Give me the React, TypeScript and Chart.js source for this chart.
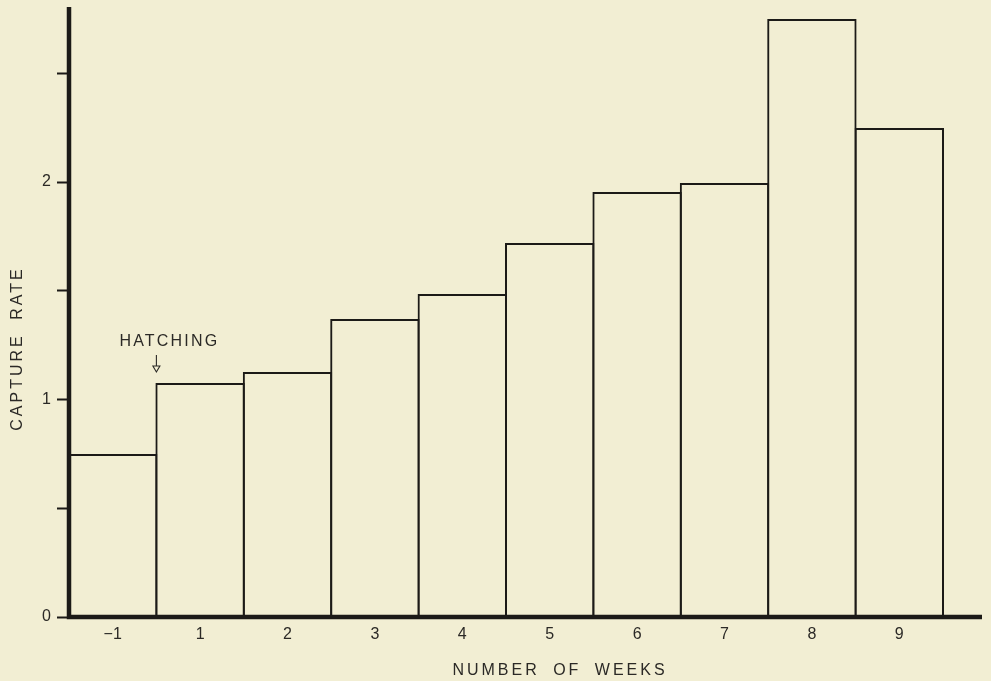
import React, { useEffect, useRef } from 'react';
import { Chart, registerables } from 'chart.js';

Chart.register(...registerables);

// ---- data ----
const categories = ['\u22121', '1', '2', '3', '4', '5', '6', '7', '8', '9'];
const captureRate = [0.75, 1.076, 1.126, 1.37, 1.485, 1.72, 1.954, 1.995, 2.75, 2.248];
const yMajorTicks = [0, 1, 2];
const yStep = 0.5;
const yMax = 2.8;
const annotationLabel = 'HATCHING';
const annotationIndex = 1; // arrow at the start of week 1
const xTitle = 'NUMBER OF WEEKS';
const yTitle = 'CAPTURE RATE';

const BG = '#f2eed3';
const INK = '#1c1a17';
const TEXT = '#2b2926';
const FONT = '"Liberation Sans", Arial, sans-serif';

const decorPlugin = {
  id: 'decor',
  afterDatasetsDraw(chart: any) {
    const { ctx, chartArea, scales } = chart;
    const x = scales.x;
    const y = scales.y;
    ctx.save();
    // axes
    ctx.strokeStyle = INK;
    ctx.lineWidth = 4.5;
    ctx.beginPath();
    ctx.moveTo(chartArea.left, chartArea.top - 1);
    ctx.lineTo(chartArea.left, chartArea.bottom + 2.2);
    ctx.moveTo(chartArea.left - 2.2, chartArea.bottom);
    ctx.lineTo(chartArea.right + 39, chartArea.bottom);
    ctx.stroke();

    // annotation arrow
    const bx = (x.getPixelForValue(annotationIndex - 1) + x.getPixelForValue(annotationIndex)) / 2;
    const by = y.getPixelForValue(captureRate[annotationIndex]);
    ctx.lineWidth = 1.1;
    ctx.strokeStyle = TEXT;
    ctx.beginPath();
    ctx.moveTo(bx, by - 28);
    ctx.lineTo(bx, by - 17);
    ctx.stroke();
    ctx.beginPath();
    ctx.moveTo(bx - 3.5, by - 17);
    ctx.lineTo(bx + 3.5, by - 17);
    ctx.lineTo(bx, by - 11);
    ctx.closePath();
    ctx.stroke();

    ctx.fillStyle = TEXT;
    ctx.font = `16px ${FONT}`;
    (ctx as any).letterSpacing = '2.2px';
    ctx.textAlign = 'center';
    ctx.textBaseline = 'alphabetic';
    ctx.fillText(annotationLabel, bx + 13, by - 37);
    ctx.restore();
  },
  afterDraw(chart: any) {
    const { ctx, chartArea } = chart;
    ctx.save();
    ctx.fillStyle = TEXT;
    ctx.font = `16px ${FONT}`;
    (ctx as any).letterSpacing = '3px';
    (ctx as any).wordSpacing = '6px';
    ctx.textAlign = 'center';
    ctx.textBaseline = 'alphabetic';
    const cx = (chartArea.left + chartArea.right) / 2 + 54;
    ctx.fillText(xTitle, cx, chart.height - 6);

    const cy = (chartArea.top + chartArea.bottom) / 2 + 36;
    ctx.translate(22, cy);
    ctx.rotate(-Math.PI / 2);
    ctx.fillText(yTitle, 0, 0);
    ctx.restore();
  },
};

export default function App() {
  const canvasRef = useRef<HTMLCanvasElement | null>(null);

  useEffect(() => {
    document.body.style.margin = '0';
    document.body.style.background = BG;
    const canvas = canvasRef.current;
    if (!canvas) return;
    const chart = new Chart(canvas, {
      type: 'bar',
      data: {
        labels: categories,
        datasets: [
          {
            data: captureRate,
            backgroundColor: 'rgba(0,0,0,0)',
            borderColor: INK,
            borderWidth: { top: 2, left: 2, right: 2, bottom: 0 },
            borderSkipped: 'bottom',
            categoryPercentage: 1,
            barPercentage: 1.0229,
            clip: false,
          },
        ],
      },
      options: {
        animation: false,
        responsive: true,
        maintainAspectRatio: false,
        layout: { padding: { left: 0, top: 8, right: 48, bottom: 0 } },
        plugins: {
          legend: { display: false },
          tooltip: { enabled: false },
          title: { display: false },
        },
        scales: {
          x: {
            type: 'category',
            offset: true,
            grid: { display: false, drawOnChartArea: false, drawTicks: false },
            border: { display: false },
            ticks: {
              color: TEXT,
              font: { family: FONT, size: 16 },
              padding: 8,
              maxRotation: 0,
              autoSkip: false,
            },
            afterFit(scale: any) {
              scale.height = 64;
              scale.paddingLeft = 0;
              scale.paddingRight = 0;
            },
          },
          y: {
            type: 'linear',
            min: 0,
            max: yMax,
            grid: {
              drawOnChartArea: false,
              drawTicks: true,
              tickLength: 12,
              tickWidth: 2,
              tickColor: INK,
            },
            border: { display: false },
            ticks: {
              stepSize: yStep,
              includeBounds: false,
              autoSkip: false,
              color: TEXT,
              font: { family: FONT, size: 16 },
              padding: 6,
              callback: (v: any) => (yMajorTicks.includes(Number(v)) ? String(v) : ''),
            },
            afterFit(scale: any) {
              scale.width = 69;
              scale.paddingTop = 0;
              scale.paddingBottom = 0;
            },
          },
        },
      },
      plugins: [decorPlugin],
    });
    return () => chart.destroy();
  }, []);

  return (
    <div style={{ width: 991, height: 681, background: BG, position: 'relative' }}>
      <canvas ref={canvasRef} />
    </div>
  );
}
